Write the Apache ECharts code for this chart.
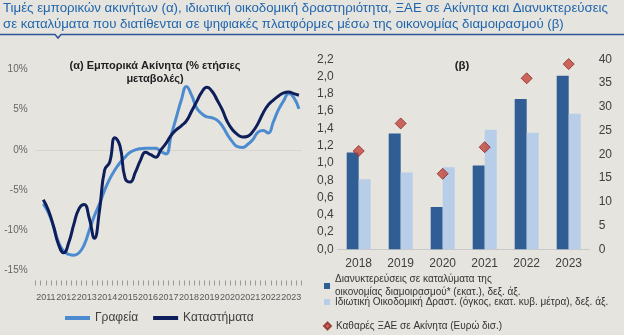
<!DOCTYPE html>
<html><head><meta charset="utf-8">
<script src="https://cdn.jsdelivr.net/npm/echarts@6/dist/echarts.min.js"></script>
<style>html,body{margin:0;padding:0;background:#e6e4df;}#c{width:624px;height:335px;}</style>
</head><body><div id="c"></div>
<script>
// ---- Left panel data (quarterly, % y/y) ----
const years = ['2011','2012','2013','2014','2015','2016','2017','2018','2019','2020','2021','2022','2023'];
const quarterLabels = [];
years.forEach(y => ['Q1','Q2','Q3','Q4'].forEach(q => quarterLabels.push(y + q)));
const offices = [null,-6.7,-7.8,-9.5, -11.5,-12.6,-13.0,-13.1, -12.8,-11.8,-10.0,-8.2, -6.7,-5.0,-3.6,-2.5,
  -1.6,-0.9,-0.3,0.0, 0.15,0.2,0.2,0.2, -0.2,-0.5,1.8,4.0, 6.2,7.9,6.8,5.2,
  4.5,4.1,4.0,3.7, 3.0,1.9,1.0,0.4, 0.3,0.7,1.3,2.2, 2.4,2.1,3.5,5.0, 6.1,7.0,6.5,5.1];
const shops = [null,-6.2,-7.5,-9.5, -11.8,-12.8,-11.5,-9.2, -7.3,-6.8,-8.5,-11.0, -7.5,-2.5,-1.5,1.5,
  0.5,-3.5,-4.0,-2.8, -1.3,-0.3,-0.6,-0.9, 0.0,0.8,1.8,2.5, 3.0,3.6,4.8,6.0,
  7.2,7.8,7.3,6.2, 5.0,3.5,2.5,1.9, 1.6,1.7,2.3,3.3, 4.6,5.6,6.2,6.7, 7.1,7.2,7.0,6.8];

// ---- Right panel data (annual) ----
const barYears = ['2018','2019','2020','2021','2022','2023'];
const overnights = [1.12,1.34,0.49,0.97,1.74,2.01];
const construction = [0.81,0.89,0.95,1.385,1.35,1.57];
const fdiRealEstate = [20.7,26.5,15.9,21.5,36.0,39.0];
const leftTicks = {min:-15, max:10, step:5};
const rightLeftTicks = {min:0, max:2.2, step:0.2};
const rightRightTicks = {min:0, max:40, step:5};

const nOver = 'Διανυκτερεύσεις σε καταλύματα της οικονομίας διαμοιρασμού* (εκατ.), δεξ. άξ.';
const nCons = 'Ιδιωτική Οικοδομική Δραστ. (όγκος, εκατ. κυβ. μέτρα), δεξ. άξ.';
const nFdi = 'Καθαρές ΞΑΕ σε Ακίνητα (Ευρώ δισ.)';

const titleLine1 = 'Τιμές εμπορικών ακινήτων (α), ιδιωτική οικοδομική δραστηριότητα, ΞΑΕ σε Ακίνητα και Διανυκτερεύσεις';
const titleLine2 = 'σε καταλύματα που διατίθενται σε ψηφιακές πλατφόρμες μέσω της οικονομίας διαμοιρασμού (β)';

const FONT = 'Liberation Sans, Arial, sans-serif';
const TFONT = '13.25px ' + FONT;
const TCOLOR = '#2066ad';

const chart = echarts.init(document.getElementById('c'), null, {renderer:'canvas'});
chart.setOption({
  backgroundColor:'#e6e4df',
  animation:false,
  textStyle:{fontFamily:FONT},
  graphic:[
    {type:'text', x:3, y:2, style:{text:titleLine1, font:TFONT, fill:TCOLOR}},
    {type:'text', x:3, y:18, style:{text:titleLine2, font:TFONT, fill:TCOLOR}},
    {type:'polyline', shape:{points:[[0,34.5],[55,34.5],[58,38],[61,34.5],[624,34.5]]}, style:{stroke:'#2f5597', lineWidth:1.5, fill:null}},
    {type:'text', x:155, y:59, style:{text:'(α) Εμπορικά Ακίνητα (% ετήσιες\nμεταβολές)', font:'bold 11px '+FONT, fill:'#222', align:'center', lineHeight:13}},
    {type:'text', x:462, y:60, style:{text:'(β)', font:'bold 11.5px '+FONT, fill:'#222', align:'center'}}
  ],
  grid:[
    {left:35.6, width:265.9, top:69.5, height:201, containLabel:false},
    {left:337.7, right:34.3, top:59.3, bottom:85.7, containLabel:false}
  ],
  xAxis:[
    {type:'category', gridIndex:0, data:quarterLabels, boundaryGap:true, offset:10,
     axisLine:{show:false, onZero:false}, axisTick:{show:true, interval:0, length:5, lineStyle:{color:'#9a9a9a'}},
     axisLabel:{show:false}},
    {type:'category', gridIndex:0, data:years, boundaryGap:true, position:'bottom',
     axisLine:{show:false, onZero:false}, axisTick:{show:false},
     axisLabel:{interval:0, margin:23, fontSize:9, color:'#595959'}},
    {type:'category', gridIndex:1, data:barYears, axisLine:{lineStyle:{color:'#c8c8c8'}}, axisTick:{show:false},
     axisLabel:{fontSize:12, color:'#404040', margin:8}}
  ],
  yAxis:[
    {type:'value', gridIndex:0, min:leftTicks.min, max:leftTicks.max, interval:leftTicks.step,
     axisLine:{show:false}, axisTick:{show:false},
     axisLabel:{formatter:'{value}%', fontSize:10, color:'#666', margin:8},
     splitLine:{show:true, lineStyle:{color:['transparent','transparent','transparent','#d6d4ce','transparent','transparent']}}},
    {type:'value', gridIndex:1, min:rightLeftTicks.min, max:rightLeftTicks.max, interval:rightLeftTicks.step,
     axisLine:{show:false}, axisTick:{show:false}, splitLine:{show:false},
     axisLabel:{formatter:v=>v.toFixed(1).replace('.',','), fontSize:12, color:'#404040', margin:4}},
    {type:'value', gridIndex:1, position:'right', min:rightRightTicks.min, max:rightRightTicks.max, interval:rightRightTicks.step,
     axisLine:{show:false}, axisTick:{show:false}, splitLine:{show:false},
     axisLabel:{fontSize:12, color:'#404040', margin:9}}
  ],
  legend:[
    {left:65, top:312, padding:0, itemWidth:25, itemHeight:4, itemGap:15, icon:'rect',
     data:['Γραφεία','Καταστήματα'], textStyle:{fontSize:12, color:'#404040', fontFamily:FONT}},
    {left:324, top:273, padding:0, itemWidth:6, itemHeight:6, icon:'rect', orient:'vertical',
     data:[nOver], formatter:n=>n.replace('της ','της\n'),
     textStyle:{fontSize:10, color:'#333', fontFamily:FONT, lineHeight:13}},
    {left:324, top:297, padding:0, itemWidth:6, itemHeight:6, icon:'rect',
     data:[nCons], textStyle:{fontSize:10, color:'#333', fontFamily:FONT}},
    {left:323, top:321, padding:0, itemWidth:7, itemHeight:7, icon:'diamond',
     data:[nFdi], textStyle:{fontSize:10, color:'#333', fontFamily:FONT}}
  ],
  series:[
    {name:'Γραφεία', type:'line', xAxisIndex:0, yAxisIndex:0, data:offices, smooth:0.5, showSymbol:false,
     lineStyle:{width:3, color:'#4c8bd0'}, itemStyle:{color:'#4c8bd0'}},
    {name:'Καταστήματα', type:'line', xAxisIndex:0, yAxisIndex:0, data:shops, smooth:0.5, showSymbol:false,
     lineStyle:{width:3, color:'#0d1e5a'}, itemStyle:{color:'#0d1e5a'}},
    {name:nOver, type:'bar', xAxisIndex:2, yAxisIndex:1, data:overnights, barWidth:12, barGap:'0%',
     itemStyle:{color:'#2f5d94'}},
    {name:nCons, type:'bar', xAxisIndex:2, yAxisIndex:1, data:construction, barWidth:12, barGap:'0%',
     itemStyle:{color:'#b8cde8'}},
    {name:nFdi, type:'scatter', xAxisIndex:2, yAxisIndex:2, data:fdiRealEstate, symbol:'diamond', symbolSize:11,
     itemStyle:{color:'#c4433b', borderColor:'#8a2a25', borderWidth:1}, z:5}
  ]
});
</script></body></html>
